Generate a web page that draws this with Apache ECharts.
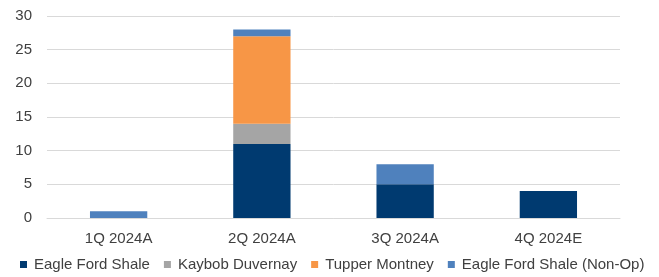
<!DOCTYPE html>
<html>
<head>
<meta charset="utf-8">
<script src="https://cdn.jsdelivr.net/npm/echarts@6/dist/echarts.min.js"></script>
<style>
  html, body { margin: 0; padding: 0; background: #fff; }
  #main { width: 659px; height: 277px; }
</style>
</head>
<body>
<div id="main"></div>
<script>
var categories = ['1Q 2024A', '2Q 2024A', '3Q 2024A', '4Q 2024E'];
var eagleFord = [0, 11, 5, 4];
var kaybob = [0, 3, 0, 0];
var tupper = [0, 13, 0, 0];
var eagleFordNonOp = [1, 1, 3, 0];
var seriesNames = ['Eagle Ford Shale', 'Kaybob Duvernay', 'Tupper Montney', 'Eagle Ford Shale (Non-Op)'];
var colors = ['#003a70', '#a5a5a5', '#f79646', '#4f81bd'];

var myChart = echarts.init(document.getElementById('main'));

var makeSeries = function (name, data, color) {
  return {
    name: name,
    type: 'bar',
    stack: 'total',
    barWidth: '40%',
    data: data,
    itemStyle: { color: color },
    emphasis: { disabled: true }
  };
};

var option = {
  animation: false,
  textStyle: { fontFamily: 'Liberation Sans, Arial, sans-serif' },
  grid: { left: 47, right: 39, top: 16, bottom: 59 },
  legend: {
    top: 252,
    left: 15,
    itemWidth: 7,
    itemHeight: 7,
    itemGap: 14,
    icon: 'rect',
    textStyle: { color: '#404040', fontSize: 15, padding: [0, 0, 0, 2] },
    data: seriesNames
  },
  xAxis: {
    type: 'category',
    data: categories,
    axisLine: { lineStyle: { color: '#d9d9d9' } },
    axisTick: { show: false },
    axisLabel: { color: '#404040', fontSize: 15, margin: 13 }
  },
  yAxis: {
    type: 'value',
    min: 0,
    max: 30,
    interval: 5,
    axisLine: { show: false },
    axisTick: { show: false },
    axisLabel: { color: '#404040', fontSize: 15, margin: 15 },
    splitLine: { lineStyle: { color: '#d9d9d9' } }
  },
  series: [
    makeSeries(seriesNames[0], eagleFord, colors[0]),
    makeSeries(seriesNames[1], kaybob, colors[1]),
    makeSeries(seriesNames[2], tupper, colors[2]),
    makeSeries(seriesNames[3], eagleFordNonOp, colors[3])
  ]
};

myChart.setOption(option);
</script>
</body>
</html>
